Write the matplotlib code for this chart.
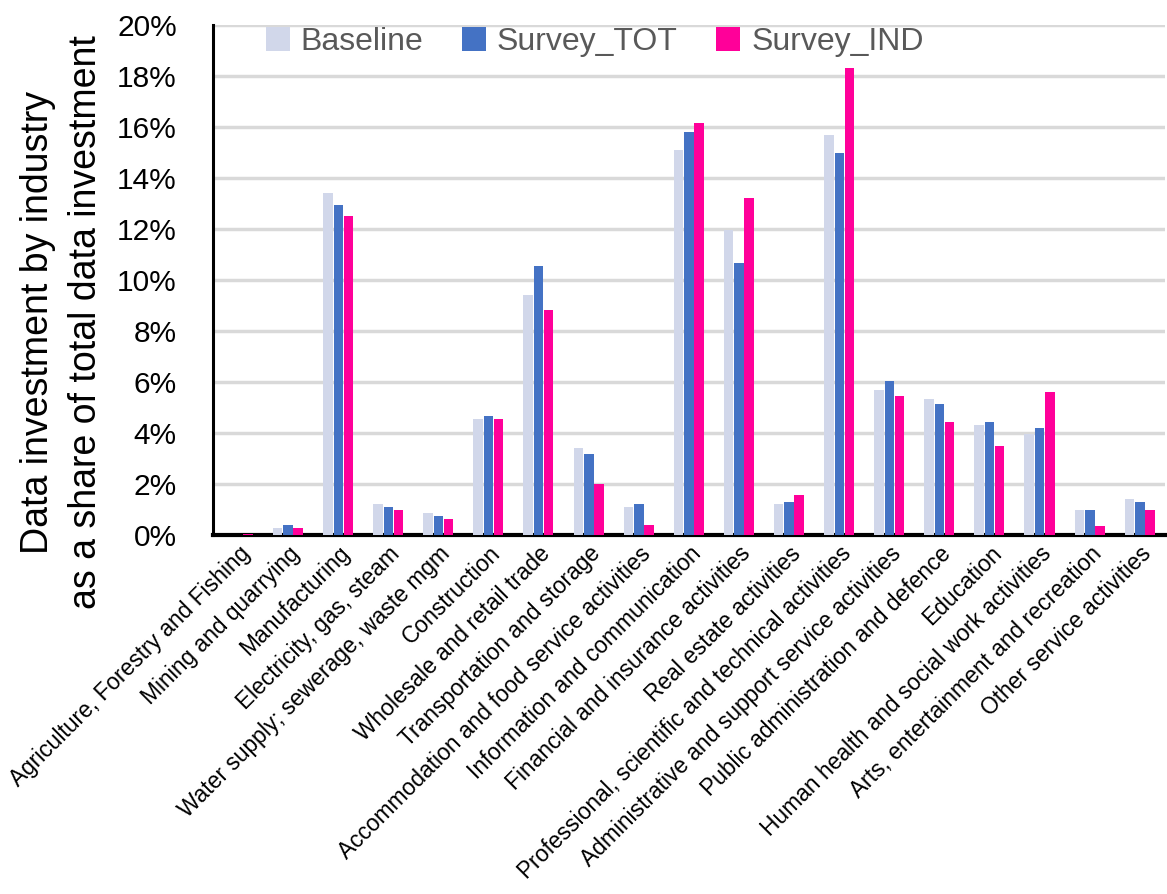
import matplotlib
matplotlib.use("Agg")
import matplotlib.pyplot as plt
import numpy as np
from matplotlib.ticker import FuncFormatter

categories = [
    "Agriculture, Forestry and Fishing",
    "Mining and quarrying",
    "Manufacturing",
    "Electricity, gas, steam",
    "Water supply; sewerage, waste mgm",
    "Construction",
    "Wholesale and retail trade",
    "Transportation and storage",
    "Accommodation and food service activities",
    "Information and communication",
    "Financial and insurance activities",
    "Real estate activities",
    "Professional, scientific and technical activities",
    "Administrative and support service activities",
    "Public administration and defence",
    "Education",
    "Human health and social work activities",
    "Arts, entertainment and recreation",
    "Other service activities",
]
baseline = [0.01, 0.28, 13.4, 1.2, 0.86, 4.55, 9.4, 3.4, 1.08, 15.1, 11.95, 1.2, 15.7, 5.7, 5.35, 4.3, 3.95, 0.97, 1.43]
survey_tot = [0.01, 0.40, 12.95, 1.08, 0.75, 4.66, 10.55, 3.16, 1.2, 15.8, 10.65, 1.3, 15.0, 6.05, 5.12, 4.43, 4.2, 0.97, 1.3]
survey_ind = [0.02, 0.28, 12.5, 0.98, 0.63, 4.55, 8.83, 2.0, 0.4, 16.15, 13.2, 1.55, 18.3, 5.47, 4.43, 3.5, 5.6, 0.35, 0.97]
series_names = ["Baseline", "Survey_TOT", "Survey_IND"]
colors = ["#D1D7EA", "#4472C4", "#FF0099"]

plt.rcParams['font.family'] = ['Liberation Sans', 'DejaVu Sans']

fig = plt.figure(figsize=(11.67, 8.94), dpi=100)
ax = fig.add_axes([213/1167, 1-535/894, (1165-213)/1167, (535-25)/894])

x = np.arange(len(categories))
w = 0.19
offsets = [-0.21, 0.0, 0.2]
for vals, name, c, off in zip([baseline, survey_tot, survey_ind], series_names, colors, offsets):
    ax.bar(x + off, np.array(vals) / 100, width=w, color=c, label=name, zorder=3)

ax.set_xlim(-0.5, len(categories) - 0.5)
ax.set_ylim(0, 0.20)
ax.set_yticks(np.arange(0, 0.2001, 0.02))
ax.yaxis.set_major_formatter(FuncFormatter(lambda v, p: f"{v*100:.0f}%"))
ax.grid(axis='y', color='#D9D9D9', linewidth=2.5, zorder=0)
ax.set_axisbelow(True)
for s in ['top', 'right']:
    ax.spines[s].set_visible(False)
ax.spines['left'].set_linewidth(2.2)
ax.spines['bottom'].set_linewidth(3)
ax.tick_params(axis='y', length=0, pad=26, labelsize=21.5)
ax.tick_params(axis='x', length=0, pad=5)
ax.set_xticks(x)
ax.set_xticklabels(categories, rotation=45, ha='right', rotation_mode='anchor', fontsize=16.4)

fig.text(62/1167, 1-322/894, "Data investment by industry\nas a share of total data investment",
         rotation=90, ha='center', va='center', multialignment='center',
         fontsize=27, linespacing=1.4)

leg = ax.legend(loc='upper left', bbox_to_anchor=(0.025, 1.052), ncol=3, frameon=False,
                handlelength=0.75, handleheight=0.75, handletextpad=0.35, columnspacing=1.2,
                prop={'size': 23}, labelcolor='#595959')

fig.savefig("out.png", dpi=100)
